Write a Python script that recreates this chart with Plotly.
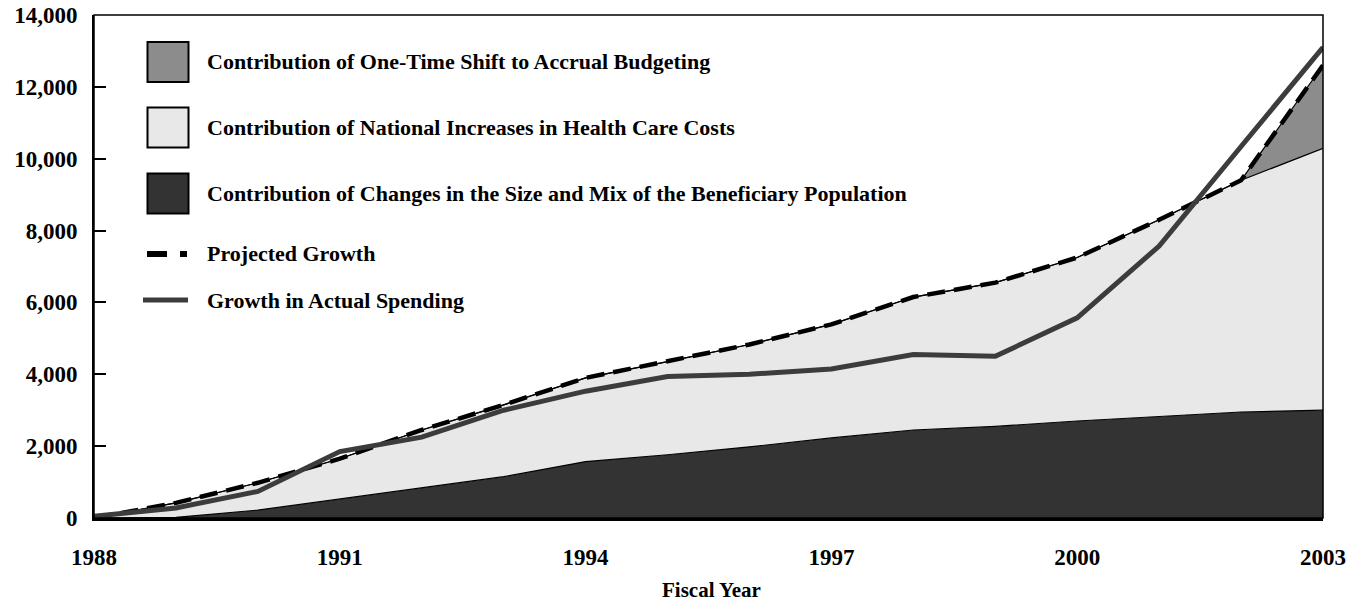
import numpy as np
import plotly.graph_objects as go

years = list(range(1988, 2004))
beneficiary = [0, 20, 220, 530, 850, 1150, 1570, 1760, 1980, 2230, 2450, 2550, 2700, 2830, 2950, 3000]
health_costs = [0, 400, 760, 1120, 1600, 2000, 2330, 2590, 2850, 3160, 3700, 4000, 4550, 5470, 6450, 7290]
accrual = [0, 0, 0, 0, 0, 0, 0, 0, 0, 0, 0, 0, 0, 0, 0, 2310]
actual = [50, 280, 740, 1850, 2250, 3000, 3530, 3940, 4000, 4150, 4550, 4500, 5570, 7570, 10340, 13100]
x_ticks = [1988, 1991, 1994, 1997, 2000, 2003]
y_ticks = list(range(0, 14001, 2000))

projected = (np.array(beneficiary) + np.array(health_costs) + np.array(accrual)).tolist()

FONT = "Liberation Serif"
C_DARK = "#333333"
C_LIGHT = "#e8e8e8"
C_MID = "#8c8c8c"
C_ACT = "#3c3c3c"

fig = go.Figure()
for vals, col in [(beneficiary, C_DARK), (health_costs, C_LIGHT), (accrual, C_MID)]:
    fig.add_trace(go.Scatter(x=years, y=vals, mode="lines", stackgroup="s",
                             line=dict(color="black", width=1.2), fillcolor=col,
                             hoverinfo="skip", showlegend=False))
fig.add_trace(go.Scatter(x=years, y=projected, mode="lines",
                         line=dict(color="black", width=4.5, dash="18px,9px"),
                         showlegend=False))
fig.add_trace(go.Scatter(x=years, y=actual, mode="lines",
                         line=dict(color=C_ACT, width=5),
                         showlegend=False))

PLOT_L, PLOT_R, PLOT_T, PLOT_B = 94, 1323, 15, 518
W_PX = PLOT_R - PLOT_L
H_PX = PLOT_B - PLOT_T

def px(x):
    return (x - PLOT_L) / W_PX

def py(y):
    return (PLOT_B - y) / H_PX

shapes = []
annotations = []
# plot frame (top/right)
shapes.append(dict(type="rect", xref="paper", yref="paper", x0=0, x1=1, y0=0, y1=1,
                   line=dict(color="black", width=1.5), layer="above"))

legend_rows = [
    ("box", C_MID, 62, "Contribution of One-Time Shift to Accrual Budgeting"),
    ("box", C_LIGHT, 127.5, "Contribution of National Increases in Health Care Costs"),
    ("box", C_DARK, 193.5, "Contribution of Changes in the Size and Mix of the Beneficiary Population"),
    ("dash", None, 254, "Projected Growth"),
    ("solid", None, 300, "Growth in Actual Spending"),
]
for kind, col, yc, label in legend_rows:
    if kind == "box":
        shapes.append(dict(type="rect", xref="paper", yref="paper",
                           x0=px(147.5), x1=px(188.5), y0=py(yc + 20), y1=py(yc - 20),
                           fillcolor=col, line=dict(color="black", width=2)))
    elif kind == "dash":
        shapes.append(dict(type="line", xref="paper", yref="paper",
                           x0=px(147), x1=px(167), y0=py(yc), y1=py(yc),
                           line=dict(color="black", width=6)))
        shapes.append(dict(type="line", xref="paper", yref="paper",
                           x0=px(180), x1=px(187), y0=py(yc), y1=py(yc),
                           line=dict(color="black", width=6)))
    else:
        shapes.append(dict(type="line", xref="paper", yref="paper",
                           x0=px(143), x1=px(188), y0=py(yc), y1=py(yc),
                           line=dict(color=C_ACT, width=5)))
    annotations.append(dict(xref="paper", yref="paper", x=px(205), y=py(yc),
                            xanchor="left", yanchor="middle", showarrow=False,
                            text="<b>%s</b>" % label,
                            font=dict(family=FONT, size=22, color="black")))

annotations.append(dict(xref="paper", yref="paper", x=px(712), y=py(603),
                        xanchor="center", yanchor="bottom", showarrow=False,
                        borderpad=0,
                        text="<b>Fiscal Year</b>",
                        font=dict(family=FONT, size=21, color="black")))

fig.update_layout(
    width=1359, height=603,
    margin=dict(l=PLOT_L, r=1359 - PLOT_R, t=PLOT_T, b=603 - PLOT_B, autoexpand=False),
    paper_bgcolor="white", plot_bgcolor="white",
    font=dict(family=FONT, color="black"),
    shapes=shapes, annotations=annotations,
    showlegend=False,
)
fig.update_xaxes(range=[1988, 2003], tickvals=x_ticks, ticktext=[str(v) for v in x_ticks],
                 showgrid=False, zeroline=False, showline=True, linecolor="black", linewidth=3,
                 ticks="", ticklabelstandoff=16, automargin=False,
                 tickfont=dict(family=FONT, size=23, weight="bold"))
fig.update_yaxes(range=[0, 14000], tickvals=y_ticks, tickformat=",",
                 showgrid=False, zeroline=False, showline=True, linecolor="black", linewidth=2,
                 ticks="inside", ticklen=12, tickwidth=1.5, tickcolor="black",
                 ticklabelstandoff=10, automargin=False,
                 tickfont=dict(family=FONT, size=23, weight="bold"))

fig.write_html(
    "out.html",
    config={"displayModeBar": False},
    post_script="document.body.style.margin='0';document.body.style.overflow='hidden';",
)
